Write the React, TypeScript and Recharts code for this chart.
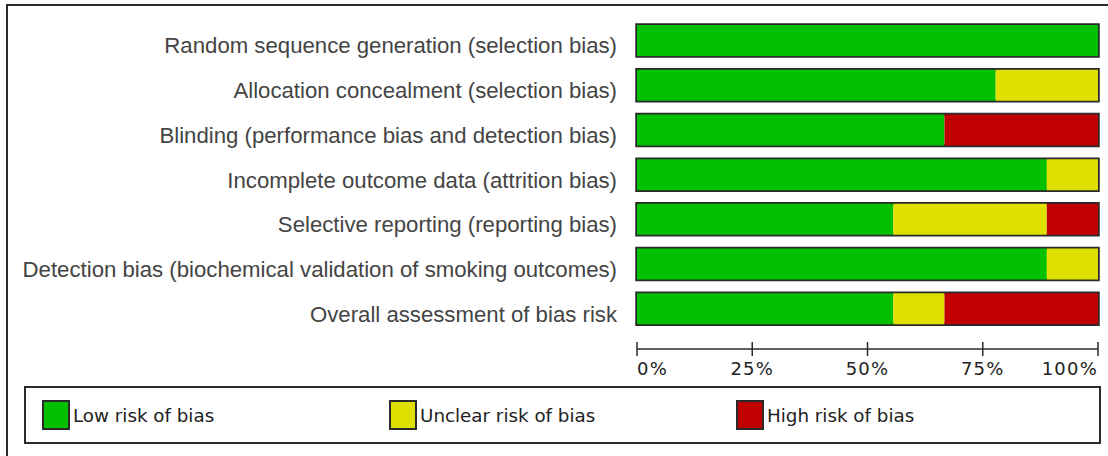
import React from 'react';
import { BarChart, Bar, XAxis, YAxis, Legend } from 'recharts';

const domains = [
  'Random sequence generation (selection bias)',
  'Allocation concealment (selection bias)',
  'Blinding (performance bias and detection bias)',
  'Incomplete outcome data (attrition bias)',
  'Selective reporting (reporting bias)',
  'Detection bias (biochemical validation of smoking outcomes)',
  'Overall assessment of bias risk',
];

// percent of studies per judgement
const lowRisk = [100, 77.8, 66.7, 88.9, 55.6, 88.9, 55.6];
const unclearRisk = [0, 22.2, 0, 11.1, 33.3, 11.1, 11.1];
const highRisk = [0, 0, 33.3, 0, 11.1, 0, 33.3];

const seriesNames = ['Low risk of bias', 'Unclear risk of bias', 'High risk of bias'];
const pctTicks = [0, 25, 50, 75, 100];

const GREEN = '#00c000';
const YELLOW = '#e0e000';
const RED = '#c00000';
const INK = '#2a2a2a';

const chartData = domains.map((name, i) => ({
  name,
  low: lowRisk[i],
  unclear: unclearRisk[i],
  high: highRisk[i],
}));

const DomainTick = (props: any) => {
  const { x, y, payload } = props;
  return (
    <text
      x={x}
      y={y}
      dy={13}
      textAnchor="end"
      fill="#444"
      fontSize={22.2}
      fontFamily="'Liberation Sans', Arial, sans-serif"
    >
      {payload.value}
    </text>
  );
};

const PctTick = (props: any) => {
  const { x, y, payload, index } = props;
  // first label starts at its tick, last ends at it, others centred
  const anchor = index === 0 ? 'start' : index === pctTicks.length - 1 ? 'end' : 'middle';
  return (
    <g>
      <line x1={x} x2={x} y1={y - 7} y2={y + 7} stroke={INK} strokeWidth={1.5} />
      <text
        x={x}
        y={y + 26}
        textAnchor={anchor}
        fill="#222"
        fontSize={18}
        letterSpacing={1.2}
        fontFamily="'DejaVu Sans', sans-serif"
      >
        {payload.value}%
      </text>
    </g>
  );
};

const RiskLegend = (props: any) => {
  const items = [...(props.payload || [])].sort(
    (a: any, b: any) => seriesNames.indexOf(a.value) - seriesNames.indexOf(b.value)
  );
  return (
    <div
      style={{
        boxSizing: 'border-box',
        width: '100%',
        height: '100%',
        border: `2px solid ${INK}`,
        display: 'flex',
        alignItems: 'center',
        paddingLeft: 16,
      }}
    >
      {items.map((entry: any) => (
        <div key={entry.value} style={{ width: 347, display: 'flex', alignItems: 'center' }}>
          <span
            style={{
              boxSizing: 'border-box',
              width: 28,
              height: 30,
              background: entry.color,
              border: `2px solid ${INK}`,
              marginRight: 3,
            }}
          />
          <span style={{ fontFamily: "'DejaVu Sans', sans-serif", fontSize: 18.3, color: '#222' }}>
            {entry.value}
          </span>
        </div>
      ))}
    </div>
  );
};

export default function App() {
  return (
    <div style={{ position: 'absolute', left: 0, top: 0, width: 1108, height: 456, overflow: 'hidden', background: '#fff' }}>
      <div
        style={{
          position: 'absolute',
          left: 6,
          top: 4,
          width: 1100,
          height: 460,
          borderTop: `2px solid ${INK}`,
          borderLeft: `2px solid ${INK}`,
        }}
      />
      <BarChart
        width={1108}
        height={456}
        data={chartData}
        layout="vertical"
        margin={{ top: 18, right: 10, bottom: 75, left: 0 }}
        style={{ position: 'absolute', left: 0, top: 0 }}
      >
        <XAxis
          type="number"
          domain={[0, 100]}
          ticks={pctTicks}
          interval={0}
          height={32}
          tickSize={0}
          tickMargin={0}
          tickLine={false}
          axisLine={{ stroke: INK, strokeWidth: 1.5 }}
          tick={<PctTick />}
        />
        <YAxis
          type="category"
          dataKey="name"
          width={637}
          padding={{ top: 0, bottom: 18 }}
          tickSize={0}
          tickMargin={20}
          tickLine={false}
          axisLine={false}
          interval={0}
          tick={<DomainTick />}
        />
        <Legend
          layout="horizontal"
          verticalAlign="middle"
          align="center"
          content={<RiskLegend />}
          wrapperStyle={{ left: 24, top: 386, width: 1077, height: 58 }}
        />
        <Bar
          dataKey="low"
          name={seriesNames[0]}
          stackId="rob"
          fill={GREEN}
          barSize={31}
          background={{ fill: 'none', stroke: INK, strokeWidth: 3.5 }}
          isAnimationActive={false}
        />
        <Bar dataKey="unclear" name={seriesNames[1]} stackId="rob" fill={YELLOW} barSize={31} isAnimationActive={false} />
        <Bar dataKey="high" name={seriesNames[2]} stackId="rob" fill={RED} barSize={31} isAnimationActive={false} />
      </BarChart>
    </div>
  );
}
